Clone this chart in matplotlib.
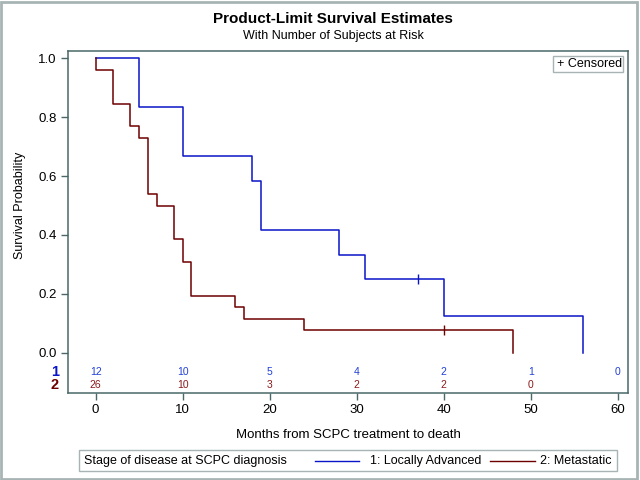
import matplotlib
matplotlib.use("Agg")
import matplotlib.pyplot as plt
from matplotlib.patches import Rectangle
from matplotlib.lines import Line2D

plt.rcParams['font.family'] = ['Liberation Sans', 'DejaVu Sans']

# ---- data ----
times_1 = [0, 5, 10, 18, 19, 28, 31, 40, 56]
surv_1 = [1.0, 0.8333, 0.6667, 0.5833, 0.4167, 0.3333, 0.25, 0.125, 0.0]
cens_t_1 = [37]
cens_s_1 = [0.25]

times_2 = [0, 0, 2, 4, 5, 6, 7, 9, 10, 11, 16, 17, 24, 48]
surv_2 = [1.0, 0.9615, 0.8462, 0.7692, 0.7308, 0.5385, 0.5, 0.3846, 0.3077,
          0.1923, 0.1538, 0.1154, 0.0769, 0.0]
cens_t_2 = [40]
cens_s_2 = [0.0769]

risk_times_1 = [0, 10, 20, 30, 40, 50, 60]
risk_1 = [12, 10, 5, 4, 2, 1, 0]
risk_times_2 = [0, 10, 20, 30, 40, 50]
risk_2 = [26, 10, 3, 2, 2, 0]

xticks = [0, 10, 20, 30, 40, 50, 60]
yticks = [0.0, 0.2, 0.4, 0.6, 0.8, 1.0]

c1 = '#0a14c8'
c2 = '#6e0000'
c1_txt = '#2340d8'
c2_txt = '#8a1a1a'
frame_c = '#4a6868'

W, H = 640, 480
fig = plt.figure(figsize=(6.4, 4.8), dpi=100)

def fx(px):
    return px / W

def fy(py):
    return 1 - py / H

ax = fig.add_axes([fx(68), fy(393), fx(628.3) - fx(68), fy(51) - fy(393)])
ax.set_xlim(-3.18, 61.22)
ax.set_ylim(-0.137, 1.025)

ax.step(times_1, surv_1, where='post', color=c1, lw=1.1)
ax.step(times_2, surv_2, where='post', color=c2, lw=1.1)
ax.plot(cens_t_1, cens_s_1, ls='none', marker='|', ms=6.5, mew=1.0, color=c1)
ax.plot(cens_t_2, cens_s_2, ls='none', marker='|', ms=6.5, mew=1.0, color=c2)

for t, n in zip(risk_times_1, risk_1):
    ax.text(t, -0.0655, str(n), color=c1_txt, fontsize=7.5, ha='center', va='center')
for t, n in zip(risk_times_2, risk_2):
    ax.text(t, -0.111, str(n), color=c2_txt, fontsize=7.5, ha='center', va='center')

fig.text(fx(55), fy(371.5), '1', color=c1, fontsize=10.5, fontweight='bold',
         ha='center', va='center')
fig.text(fx(55), fy(385), '2', color=c2, fontsize=10.5, fontweight='bold',
         ha='center', va='center')

ax.set_xticks(xticks)
ax.set_xticklabels([str(v) for v in xticks])
ax.set_yticks(yticks)
ax.set_yticklabels([f'{v:.1f}' for v in yticks])
ax.tick_params(direction='out', length=5, width=1, color=frame_c, labelsize=9.5,
               labelcolor='black', pad=3)
for s in ax.spines.values():
    s.set_color(frame_c)
    s.set_linewidth(1.1)

fig.text(fx(348), fy(435), 'Months from SCPC treatment to death', fontsize=9.5,
         ha='center', va='center')
fig.text(fx(20), fy(205.5), 'Survival Probability', fontsize=9, rotation=90,
         ha='center', va='center')

fig.text(fx(333), fy(19), 'Product-Limit Survival Estimates', fontsize=11,
         fontweight='bold', ha='center', va='center')
fig.text(fx(333), fy(36), 'With Number of Subjects at Risk', fontsize=9,
         ha='center', va='center')

# censored box
fig.add_artist(Rectangle((fx(553), fy(72)), fx(623) - fx(553), fy(56) - fy(72),
                         transform=fig.transFigure, fill=False, ec='#a8b4b4', lw=1))
fig.text(fx(557), fy(64), '+ Censored', fontsize=9, ha='left', va='center')

# bottom legend
fig.add_artist(Rectangle((fx(79), fy(471)), fx(617) - fx(79), fy(450) - fy(471),
                         transform=fig.transFigure, fill=False, ec='#a8b4b4', lw=1))
fig.text(fx(84), fy(461), 'Stage of disease at SCPC diagnosis', fontsize=9,
         ha='left', va='center')
fig.add_artist(Line2D([fx(315), fx(359)], [fy(461), fy(461)], color=c1, lw=1,
                      transform=fig.transFigure))
fig.text(fx(370), fy(461), '1: Locally Advanced', fontsize=9, ha='left', va='center')
fig.add_artist(Line2D([fx(490), fx(535)], [fy(461), fy(461)], color=c2, lw=1,
                      transform=fig.transFigure))
fig.text(fx(540), fy(461), '2: Metastatic', fontsize=9, ha='left', va='center')

# outer border
fig.add_artist(Rectangle((0.002, 0.002), 0.994, 0.994, transform=fig.transFigure,
                         fill=False, ec='#a8b4b4', lw=2))

fig.savefig('out.png', dpi=100)
